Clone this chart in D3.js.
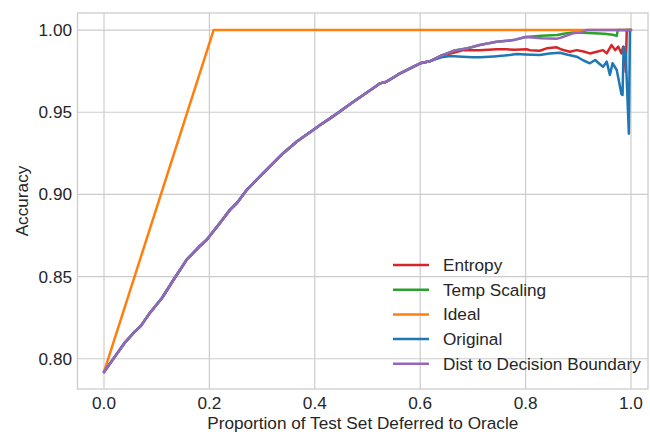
<!DOCTYPE html>
<html>
<head>
<meta charset="utf-8">
<script src="https://cdn.jsdelivr.net/npm/d3@7/dist/d3.min.js"></script>
<style>
  html, body { margin: 0; padding: 0; background: #fff; }
  text { font-family: "Liberation Sans", Arial, sans-serif; fill: #262626; }
</style>
</head>
<body>
<div id="chart"></div>
<script>
// Accuracy vs proportion deferred

// part where all four ranking curves sit on top of each other
const pShared = [0, 0.02, 0.04, 0.056, 0.07, 0.087, 0.11, 0.132, 0.157, 0.18, 0.195, 0.22, 0.239, 0.252,
  0.271, 0.29, 0.302, 0.32, 0.34, 0.366, 0.38, 0.397, 0.41, 0.429, 0.445, 0.46, 0.476, 0.492, 0.51,
  0.524, 0.536, 0.55, 0.562, 0.58, 0.6, 0.618];
const accShared = [0.792, 0.801, 0.81, 0.8157, 0.82, 0.8279, 0.837, 0.8481, 0.8603, 0.868, 0.8724, 0.8826,
  0.8906, 0.8947, 0.9028, 0.909, 0.9129, 0.9187, 0.9251, 0.9322, 0.9354, 0.9392, 0.9422, 0.9463, 0.9499,
  0.9534, 0.957, 0.9605, 0.9645, 0.9676, 0.9686, 0.9713, 0.9737, 0.9766, 0.9798, 0.981];

// tails after the curves split up
const pEntropy = [0.64, 0.663, 0.682, 0.713, 0.745, 0.764, 0.78, 0.802, 0.808, 0.827, 0.84, 0.859, 0.87,
  0.884, 0.897, 0.91, 0.922, 0.935, 0.947, 0.954, 0.963, 0.97, 0.976, 0.982, 0.985, 0.988, 0.99, 0.992, 1.0];
const accEntropy = [0.9845, 0.9862, 0.9878, 0.9878, 0.9883, 0.9883, 0.988, 0.9883, 0.9878, 0.9874, 0.9889,
  0.9895, 0.988, 0.9868, 0.9878, 0.987, 0.9858, 0.9868, 0.9878, 0.9858, 0.9909, 0.9878, 0.9899, 0.9858,
  0.9899, 0.9858, 0.9747, 1.0, 1.0];

const pTemp = [0.64, 0.663, 0.69, 0.713, 0.745, 0.777, 0.8, 0.83, 0.86, 0.872, 0.89, 0.92, 0.95, 0.965,
  0.973, 0.975, 1.0];
const accTemp = [0.9845, 0.9874, 0.989, 0.9909, 0.9929, 0.9939, 0.9958, 0.9965, 0.997, 0.9978, 0.9985,
  0.9983, 0.9978, 0.9972, 0.9965, 1.0, 1.0];

const pIdeal = [0, 0.208, 1.0];
const accIdeal = [0.792, 1.0, 1.0];

const pOriginal = [0.64, 0.657, 0.68, 0.7, 0.713, 0.74, 0.76, 0.783, 0.8, 0.827, 0.845, 0.865, 0.88, 0.897,
  0.91, 0.922, 0.932, 0.94, 0.947, 0.954, 0.96, 0.965, 0.973, 0.982, 0.984, 0.986, 0.99, 0.996, 0.998, 1.0];
const accOriginal = [0.9835, 0.9842, 0.9838, 0.9834, 0.9834, 0.984, 0.9845, 0.9854, 0.9852, 0.9848, 0.9858,
  0.9862, 0.985, 0.9838, 0.9815, 0.9798, 0.9818, 0.9795, 0.9777, 0.9808, 0.9727, 0.9798, 0.9757, 0.961,
  0.9605, 0.9899, 0.9858, 0.937, 1.0, 1.0];

const pDist = [0.64, 0.663, 0.69, 0.713, 0.745, 0.777, 0.8, 0.83, 0.86, 0.868, 0.89, 0.905, 0.916, 1.0];
const accDist = [0.9845, 0.9874, 0.989, 0.9909, 0.9929, 0.9939, 0.9958, 0.995, 0.9948, 0.9955, 0.998,
  0.9985, 1.0, 1.0];

const seriesNames = ['Entropy', 'Temp Scaling', 'Ideal', 'Original', 'Dist to Decision Boundary'];
const xTicks = [0, 0.2, 0.4, 0.6, 0.8, 1.0];
const yTicks = [0.80, 0.85, 0.90, 0.95, 1.00];

const width = 650;
const height = 434;
const margin = { top: 13, right: 2, bottom: 45, left: 77.5 };
const fontSize = 17.2;

const colors = {
  'Entropy': '#d62728',
  'Temp Scaling': '#2ca02c',
  'Ideal': '#ff7f0e',
  'Original': '#1f77b4',
  'Dist to Decision Boundary': '#9467bd'
};

function zipPts(ps, as) {
  return ps.map((p, i) => ({ p: p, a: as[i] }));
}
const shared = zipPts(pShared, accShared);
const series = [
  { name: 'Entropy', pts: shared.concat(zipPts(pEntropy, accEntropy)) },
  { name: 'Temp Scaling', pts: shared.concat(zipPts(pTemp, accTemp)) },
  { name: 'Ideal', pts: zipPts(pIdeal, accIdeal) },
  { name: 'Original', pts: shared.concat(zipPts(pOriginal, accOriginal)) },
  { name: 'Dist to Decision Boundary', pts: shared.concat(zipPts(pDist, accDist)) }
];

const svg = d3.select('#chart')
  .append('svg')
  .attr('width', width)
  .attr('height', height);

const x = d3.scaleLinear()
  .domain([-0.0503, 1.0323])
  .range([margin.left, width - margin.right]);

const y = d3.scaleLinear()
  .domain([0.7816, 1.0104])
  .range([height - margin.bottom, margin.top]);

// grid
svg.append('g')
  .selectAll('line')
  .data(xTicks)
  .enter()
  .append('line')
  .attr('x1', (d) => x(d))
  .attr('x2', (d) => x(d))
  .attr('y1', margin.top)
  .attr('y2', height - margin.bottom)
  .attr('stroke', '#cccccc')
  .attr('stroke-width', 1.2);

svg.append('g')
  .selectAll('line')
  .data(yTicks)
  .enter()
  .append('line')
  .attr('x1', margin.left)
  .attr('x2', width - margin.right)
  .attr('y1', (d) => y(d))
  .attr('y2', (d) => y(d))
  .attr('stroke', '#cccccc')
  .attr('stroke-width', 1.2);

// frame
svg.append('rect')
  .attr('x', margin.left)
  .attr('y', margin.top)
  .attr('width', width - margin.right - margin.left)
  .attr('height', height - margin.bottom - margin.top)
  .attr('fill', 'none')
  .attr('stroke', '#cccccc')
  .attr('stroke-width', 1.3);

// tick labels
const fmt = d3.format('.1f');
const fmtY = d3.format('.2f');

svg.append('g')
  .selectAll('text')
  .data(xTicks)
  .enter()
  .append('text')
  .attr('x', (d) => x(d))
  .attr('y', 408.5)
  .attr('text-anchor', 'middle')
  .attr('font-size', fontSize)
  .text((d) => fmt(d));

svg.append('g')
  .selectAll('text')
  .data(yTicks)
  .enter()
  .append('text')
  .attr('x', 72)
  .attr('y', (d) => y(d))
  .attr('dy', '0.35em')
  .attr('text-anchor', 'end')
  .attr('font-size', fontSize)
  .text((d) => fmtY(d));

// axis titles
svg.append('text')
  .attr('x', (margin.left + width - margin.right) / 2)
  .attr('y', 429)
  .attr('text-anchor', 'middle')
  .attr('font-size', fontSize)
  .text('Proportion of Test Set Deferred to Oracle');

svg.append('text')
  .attr('transform', `translate(28, ${(margin.top + height - margin.bottom) / 2}) rotate(-90)`)
  .attr('text-anchor', 'middle')
  .attr('font-size', fontSize)
  .text('Accuracy');

// lines
const line = d3.line()
  .x((d) => x(d.p))
  .y((d) => y(d.a));

svg.append('g')
  .selectAll('path')
  .data(series)
  .enter()
  .append('path')
  .attr('d', (d) => line(d.pts))
  .attr('fill', 'none')
  .attr('stroke', (d) => colors[d.name])
  .attr('stroke-width', 2.5)
  .attr('stroke-linejoin', 'round')
  .attr('stroke-linecap', 'round');

// legend, no box like seaborn whitegrid
const legendG = svg.append('g')
  .attr('transform', 'translate(393, 265)');

const item = legendG.selectAll('g')
  .data(seriesNames)
  .enter()
  .append('g')
  .attr('transform', (d, i) => `translate(0, ${i * 24.7})`);

item.append('line')
  .attr('x1', 0)
  .attr('x2', 36)
  .attr('y1', 0)
  .attr('y2', 0)
  .attr('stroke', (d) => colors[d])
  .attr('stroke-width', 2.5);

item.append('text')
  .attr('x', 50)
  .attr('y', 0)
  .attr('dy', '0.35em')
  .attr('font-size', fontSize)
  .text((d) => d);
</script>
</body>
</html>
